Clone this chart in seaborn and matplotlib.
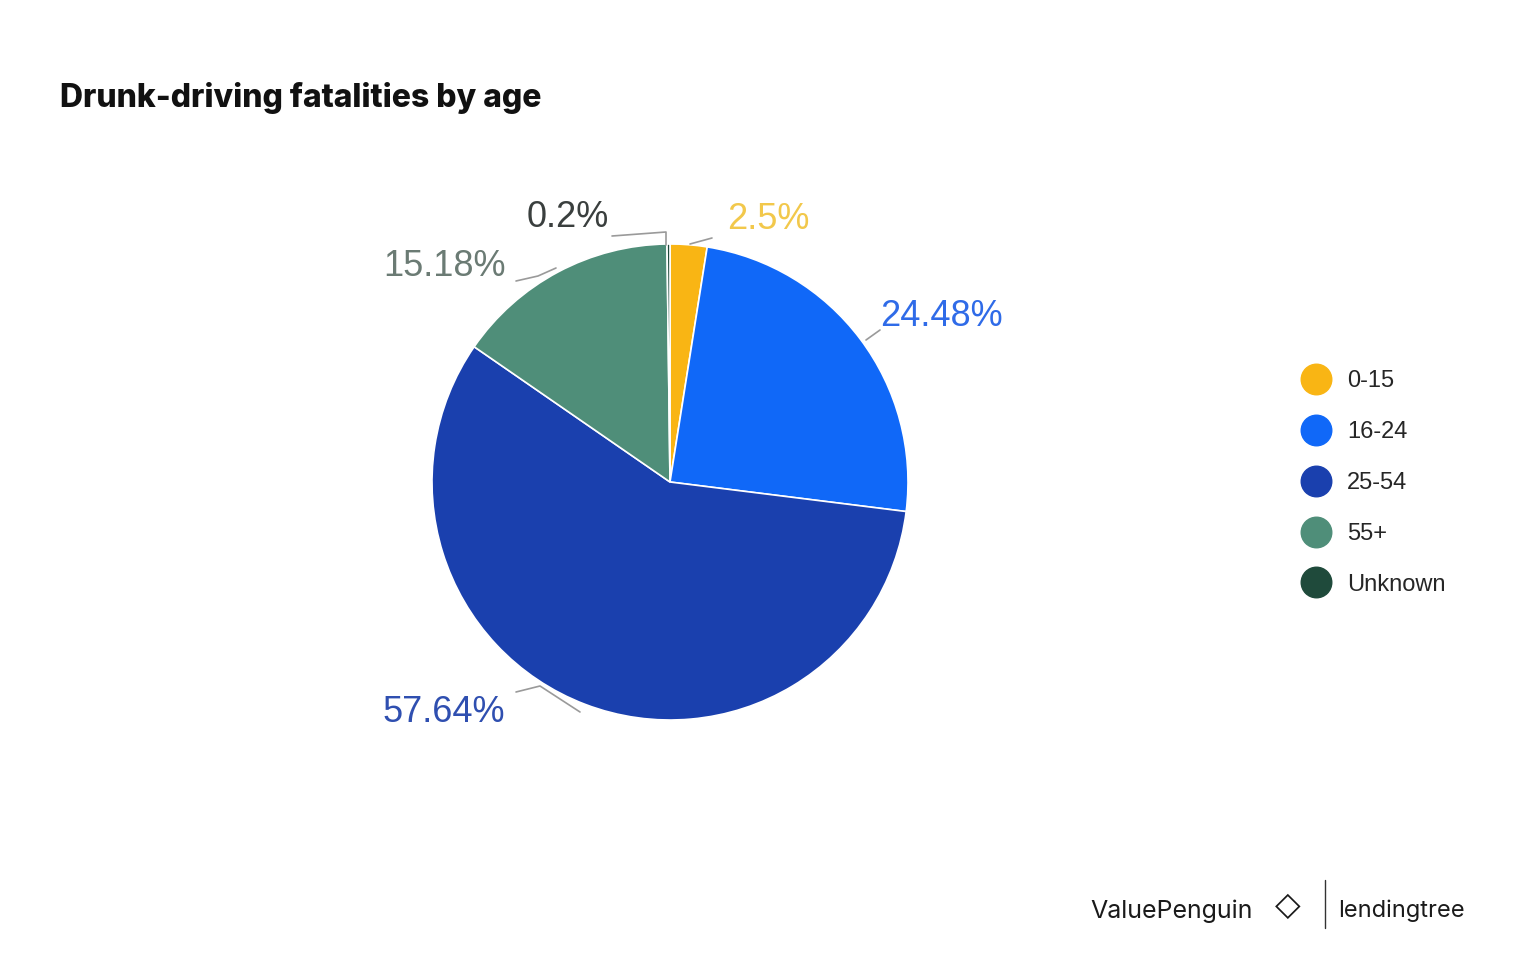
import numpy as np
import matplotlib
matplotlib.use("Agg")
import matplotlib.pyplot as plt
from matplotlib.lines import Line2D
import seaborn as sns

# data
age_groups = ["0-15", "16-24", "25-54", "55+", "Unknown"]
shares = [2.5, 24.48, 57.64, 15.18, 0.2]
share_labels = ["2.5%", "24.48%", "57.64%", "15.18%", "0.2%"]
colors = ["#F9B514", "#1068F8", "#1A40AE", "#4F8E79", "#1F4A3B"]
label_colors = ["#F2C84B", "#2F6BE8", "#2F4FB0", "#6B7B74", "#3A3F3E"]

sns.set_theme(style="white")
plt.rcParams["font.family"] = ["Inter", "DejaVu Sans"]

W, H = 1520, 960
fig = plt.figure(figsize=(W / 100, H / 100), dpi=100)

# pie axes: 1 data unit = R pixels, centred at (cx, cy) in pixels
cx, cy, R = 670, 482, 238
half = 400
ax = fig.add_axes([(cx - half) / W, (H - cy - half) / H, 2 * half / W, 2 * half / H])

wedges, _ = ax.pie(shares, colors=colors, startangle=90, counterclock=False,
                   radius=1, wedgeprops=dict(edgecolor="white", linewidth=1.2))
# pie() resets the limits, so set them afterwards
ax.set_xlim(-half / R, half / R)
ax.set_ylim(-half / R, half / R)
ax.set_aspect("equal")
ax.axis("off")


def px(x, y):
    return (x - cx) / R, (cy - y) / R


# labels with leader lines (label pixel position, leader polyline in pixels)
label_pos = [(768, 220), (941, 316), (444, 712), (445, 267), (568, 218)]
leaders = [
    [(690, 244), (712, 238)],
    [(866, 340), (880, 330)],
    [(580, 712), (540, 686), (516, 692)],
    [(556, 268), (538, 276), (516, 281)],
    [(666, 245), (666, 232), (612, 236)],
]
for lbl, pos, col, ln in zip(share_labels, label_pos, label_colors, leaders):
    x, y = px(*pos)
    ax.text(x, y, lbl, fontsize=26, color=col, ha="center", va="center",
            family=["Liberation Sans", "DejaVu Sans"])
    pts = np.array([px(a, b) for a, b in ln])
    ax.plot(pts[:, 0], pts[:, 1], color="#9A9A9A", lw=1.2)

# legend
handles = [Line2D([0], [0], marker="o", linestyle="", markersize=22,
                  markerfacecolor=c, markeredgecolor=c) for c in colors]
fig.legend(handles, age_groups, loc="center left",
           bbox_to_anchor=(1281 / W, 1 - 483 / H), frameon=False,
           labelspacing=1.22, handletextpad=0.7, handlelength=1.2,
           prop={"family": ["Liberation Sans", "DejaVu Sans"], "size": 17})

# title
fig.text(60 / W, 1 - 98 / H, "Drunk-driving fatalities by age", fontsize=23,
         fontweight="heavy", color="#111111", ha="left", va="center")

# footer branding
fig.text(1090 / W, 1 - 911 / H, "ValuePenguin", fontsize=18, color="#1a1a1a",
         ha="left", va="center")
fig.text(1288 / W, 1 - 905 / H, "\u25C7", fontsize=24, color="#1a1a1a",
         ha="center", va="center", family=["DejaVu Sans"])
fig.add_artist(Line2D([1325 / W, 1325 / W], [1 - 880 / H, 1 - 928 / H],
                      color="#333333", lw=1.0))
fig.text(1338 / W, 1 - 911 / H, "lendingtree", fontsize=17, color="#1a1a1a",
         ha="left", va="center")

fig.savefig("out.png", dpi=100, facecolor="white")
